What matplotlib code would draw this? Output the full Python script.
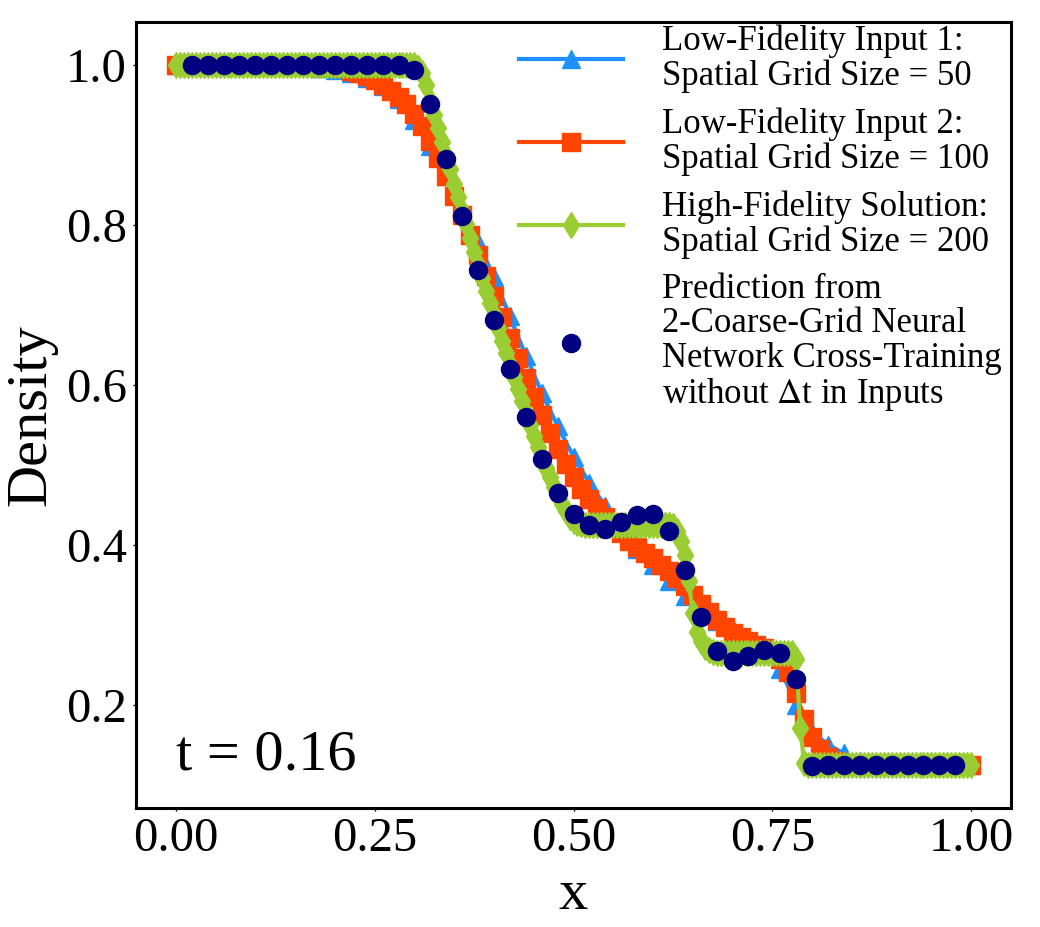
import numpy as np
import matplotlib
matplotlib.use("Agg")
import matplotlib.pyplot as plt

plt.rcParams['font.family'] = ['Liberation Serif', 'DejaVu Sans']
plt.rcParams['mathtext.fontset'] = 'stix'

# ---------------- data ----------------
x_lf1 = np.linspace(0.0, 1.0, 51)
rho_lf1 = [1.0, 1.0, 1.0, 1.0, 1.0, 1.0, 1.0, 1.0,
           0.999, 0.997, 0.994, 0.990, 0.984, 0.974, 0.958, 0.932, 0.899, 0.862,
           0.822, 0.779, 0.735, 0.686, 0.637, 0.591, 0.549, 0.511, 0.478, 0.449,
           0.418, 0.396, 0.376, 0.356, 0.337, 0.320, 0.306, 0.295, 0.286, 0.274,
           0.246, 0.200, 0.167, 0.151, 0.140, 0.131, 0.127, 0.125,
           0.125, 0.125, 0.125, 0.125, 0.125]

x_lf2 = np.linspace(0.0, 1.0, 101)
rho_lf2 = [1.0, 1.0, 1.0, 1.0, 1.0, 1.0, 1.0, 1.0, 1.0, 1.0,
           1.0, 1.0, 1.0, 1.0, 1.0, 1.0, 1.0, 1.0, 1.0, 1.0,
           0.998, 0.996, 0.993, 0.990, 0.986, 0.981, 0.975, 0.968, 0.960, 0.951,
           0.939, 0.924, 0.905, 0.884, 0.861, 0.837, 0.813, 0.788, 0.763, 0.737,
           0.711, 0.685, 0.659, 0.634, 0.609, 0.586, 0.563, 0.541, 0.521, 0.502,
           0.485, 0.471, 0.458, 0.447, 0.436, 0.425, 0.415, 0.406, 0.398, 0.391,
           0.384, 0.376, 0.368, 0.359, 0.349, 0.338, 0.327, 0.317, 0.307, 0.298,
           0.291, 0.285, 0.280, 0.276, 0.272, 0.267, 0.258, 0.242, 0.215, 0.183,
           0.160, 0.146, 0.136, 0.130, 0.127, 0.126, 0.125, 0.125, 0.125, 0.125,
           0.125, 0.125, 0.125, 0.125, 0.125, 0.125, 0.125, 0.125, 0.125, 0.125,
           0.125]

x_hf = np.linspace(0.0, 1.0, 201)
rho_hf = [1.0, 1.0, 1.0, 1.0, 1.0, 1.0, 1.0, 1.0, 1.0, 1.0,
          1.0, 1.0, 1.0, 1.0, 1.0, 1.0, 1.0, 1.0, 1.0, 1.0,
          1.0, 1.0, 1.0, 1.0, 1.0, 1.0, 1.0, 1.0, 1.0, 1.0,
          1.0, 1.0, 1.0, 1.0, 1.0, 1.0, 1.0, 1.0, 1.0, 1.0,
          1.0, 1.0, 1.0, 1.0, 1.0, 1.0, 1.0, 1.0, 1.0, 1.0,
          1.0, 1.0, 1.0, 1.0, 1.0, 1.0, 1.0, 1.0, 1.0, 1.0,
          1.0,
          0.997, 0.990, 0.975, 0.955, 0.938, 0.921, 0.904, 0.887, 0.870, 0.852,
          0.835, 0.818, 0.801, 0.784, 0.767, 0.750, 0.734, 0.718, 0.703, 0.688,
          0.672, 0.656, 0.641, 0.625, 0.610, 0.595, 0.580, 0.565, 0.551, 0.537,
          0.523, 0.510, 0.497, 0.485, 0.473, 0.462, 0.452, 0.443, 0.436, 0.431,
          0.428, 0.427,
          0.426, 0.426, 0.426, 0.426, 0.426, 0.426, 0.426, 0.426, 0.426, 0.426,
          0.426, 0.426, 0.426, 0.426, 0.426, 0.426, 0.426, 0.426, 0.426, 0.426,
          0.426, 0.426,
          0.424, 0.418, 0.406, 0.388, 0.355, 0.315, 0.292, 0.280, 0.273, 0.269,
          0.267,
          0.266, 0.266, 0.266, 0.266, 0.266, 0.266, 0.266, 0.266, 0.266, 0.266,
          0.266, 0.266, 0.266, 0.266, 0.266, 0.266, 0.266, 0.266, 0.266, 0.266,
          0.258, 0.172, 0.128,
          0.125, 0.125, 0.125, 0.125, 0.125, 0.125, 0.125, 0.125, 0.125, 0.125,
          0.125, 0.125, 0.125, 0.125, 0.125, 0.125, 0.125, 0.125, 0.125, 0.125,
          0.125, 0.125, 0.125, 0.125, 0.125, 0.125, 0.125, 0.125, 0.125, 0.125,
          0.125, 0.125, 0.125, 0.125, 0.125, 0.125, 0.125, 0.125, 0.125, 0.125,
          0.125, 0.125]

x_pred = np.linspace(0.02, 0.98, 49)
rho_pred = [1.0, 1.0, 1.0, 1.0, 1.0, 1.0, 1.0, 1.0, 1.0, 1.0, 1.0, 1.0, 1.0, 1.0,
            0.994, 0.952, 0.883, 0.811, 0.744, 0.682, 0.621, 0.561, 0.508, 0.466,
            0.439, 0.425, 0.421, 0.429, 0.438, 0.439, 0.418, 0.369, 0.310, 0.268,
            0.255, 0.262, 0.269, 0.265, 0.233, 0.124,
            0.125, 0.125, 0.125, 0.125, 0.125, 0.125, 0.125, 0.125, 0.125]

labels = ["Low-Fidelity Input 1:\nSpatial Grid Size = 50",
          "Low-Fidelity Input 2:\nSpatial Grid Size = 100",
          "High-Fidelity Solution:\nSpatial Grid Size = 200",
          "Prediction from\n2-Coarse-Grid Neural\nNetwork Cross-Training\nwithout $\\Delta$t in Inputs"]
time_label = "t = 0.16"

# ---------------- plot ----------------
fig = plt.figure(figsize=(10.4, 9.27), dpi=100)
ax = fig.add_axes([0.1308, 0.1289, 0.9721 - 0.1308, 0.9763 - 0.1289])

ms = 13
ax.plot(x_lf1, rho_lf1, color='#1E90FF', marker='^', ms=ms, lw=3, label=labels[0])
ax.plot(x_lf2, rho_lf2, color='#FF4500', marker='s', ms=ms, lw=3, label=labels[1])
ax.plot(x_hf, rho_hf, color='#9ACD32', marker='d', ms=ms, lw=3, label=labels[2])
ax.plot(x_pred, rho_pred, color='#000080', marker='o', ms=ms, ls='none', label=labels[3])

ax.set_xlim(-0.05, 1.05)
ax.set_ylim(0.0725, 1.054)
ax.set_xticks([0.0, 0.25, 0.5, 0.75, 1.0])
ax.set_xticklabels(["0.00", "0.25", "0.50", "0.75", "1.00"])
ax.set_yticks([0.2, 0.4, 0.6, 0.8, 1.0])
ax.set_yticklabels(["0.2", "0.4", "0.6", "0.8", "1.0"])
ax.tick_params(labelsize=35, length=2.5, width=1, pad=4)
for sp in ax.spines.values():
    sp.set_linewidth(2.2)

ax.set_xlabel("x", fontsize=42, labelpad=6)
ax.set_ylabel("Density", fontsize=42, labelpad=6)

ax.text(0.0457, 0.049, time_label, transform=ax.transAxes, fontsize=42,
        ha='left', va='baseline')

leg = ax.legend(loc='upper right', bbox_to_anchor=(0.9937, 1.0019),
                frameon=False, fontsize=25, handlelength=3.0,
                handletextpad=1.1, labelspacing=0.42, borderaxespad=0.0,
                borderpad=0.12, numpoints=1)
for t in leg.get_texts():
    t.set_linespacing(1.05)

fig.savefig("out.png", dpi=100)
